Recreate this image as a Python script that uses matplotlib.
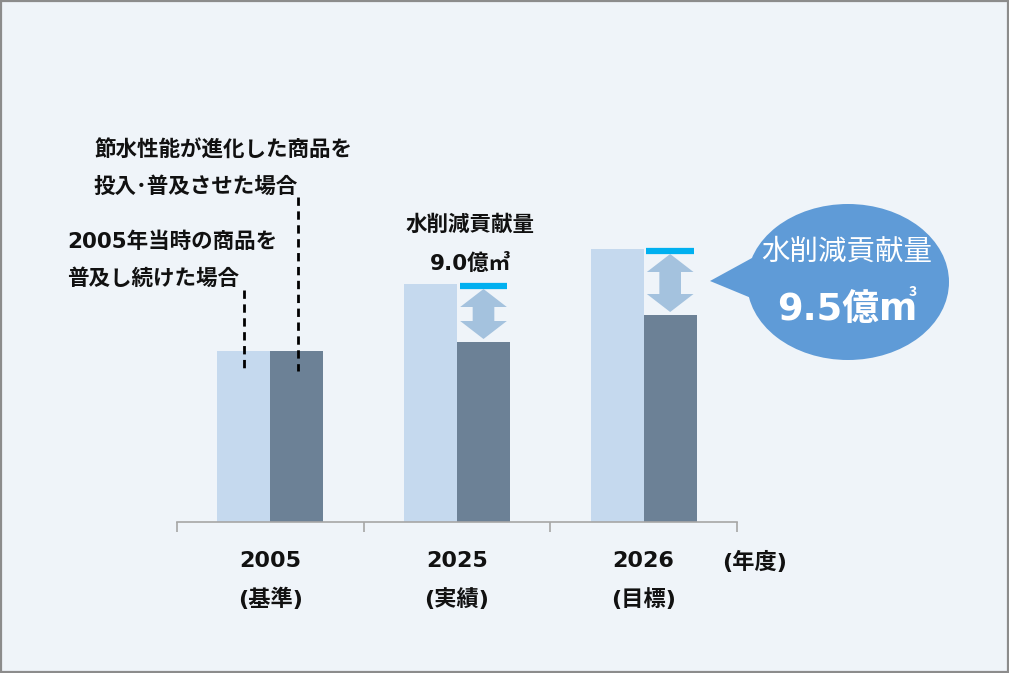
import matplotlib
matplotlib.use("Agg")
import matplotlib.pyplot as plt
from matplotlib.patches import Ellipse, Polygon, Rectangle

FAM = ['DejaVu Sans', 'Noto Sans CJK JP']
plt.rcParams['font.family'] = FAM

# ---- data (relative index values) ----
years = ["2005", "2025", "2026"]
year_notes = ["(基準)", "(実績)", "(目標)"]
baseline_values = [171, 238, 273]   # 2005年当時の商品を普及し続けた場合
saving_values = [171, 180, 207]     # 節水性能が進化した商品を投入・普及させた場合
reduction_labels = ["", "9.0億㎥", "9.5億m"]
unit_label = "(年度)"

W, H = 1009, 673
fig = plt.figure(figsize=(W / 100, H / 100), dpi=100)
fig.patch.set_facecolor("#EFF4F9")

# border
fig.add_artist(Rectangle((0.0008, 0.001), 0.9984, 0.9975, transform=fig.transFigure,
                         fill=False, edgecolor="#8C8C8C", linewidth=1.6))

base_px = 522
ax_left, ax_right = 177, 737
ax = fig.add_axes([ax_left / W, (H - base_px) / H, (ax_right - ax_left) / W, base_px / H])
ax.set_facecolor("none")
ax.set_xlim(-0.5, 2.5)
ax.set_ylim(0, base_px)
for s in ["left", "right", "top"]:
    ax.spines[s].set_visible(False)
ax.spines["bottom"].set_color("#A6A6A6")
ax.spines["bottom"].set_linewidth(1.2)
ax.set_yticks([])
ax.set_xticks([-0.5, 0.5, 1.5, 2.5])
ax.set_xticklabels([])
ax.tick_params(axis="x", direction="out", length=7, color="#A6A6A6", width=1.2)

x = list(range(len(years)))
bw = 0.284
light = "#C5D9EE"
dark = "#6C8196"
ax.bar([i - bw / 2 for i in x], baseline_values, width=bw, color=light, zorder=2)
ax.bar([i + bw / 2 for i in x], saving_values, width=bw, color=dark, zorder=2)

# cyan reference line + double arrow for 2025, 2026
for i in [1, 2]:
    top = baseline_values[i]
    low = saving_values[i]
    cx = i + bw / 2
    ax.plot([cx - bw / 2 + 0.015, cx + bw / 2 - 0.015], [top - 2, top - 2],
            color="#00B0F0", linewidth=4.5, solid_capstyle="butt", zorder=3)
    hw = 0.125   # head half width
    sw = 0.058   # shaft half width
    y1 = top - 5
    y0 = low + 3
    hh = 18
    pts = [(cx, y1), (cx + hw, y1 - hh), (cx + sw, y1 - hh), (cx + sw, y0 + hh),
           (cx + hw, y0 + hh), (cx, y0), (cx - hw, y0 + hh), (cx - sw, y0 + hh),
           (cx - sw, y1 - hh), (cx - hw, y1 - hh)]
    ax.add_patch(Polygon(pts, closed=True, facecolor="#A4C2DE", edgecolor="none", zorder=3))

# ---- text in pixel coordinates (top-left origin) ----
def ftext(px, py, s, **kw):
    fig.text(px / W, 1 - py / H, s, **kw)

bold = dict(fontweight="bold", color="#111111", family=FAM)
for i, (yr, note) in enumerate(zip(years, year_notes)):
    cxp = ax_left + (i + 0.5) * (ax_right - ax_left) / 3
    ftext(cxp, 561, yr, ha="center", va="center", fontsize=16, **bold)
    ftext(cxp, 599, note, ha="center", va="center", fontsize=16, **bold)
ftext(755, 562, unit_label, ha="center", va="center", fontsize=16, **bold)

ftext(94, 150, "節水性能が進化した商品を", ha="left", va="center", fontsize=15.5, **bold)
ftext(94, 187, "投入･普及させた場合", ha="left", va="center", fontsize=15.5, **bold)
ftext(67, 242, "2005年当時の商品を", ha="left", va="center", fontsize=15.5, **bold)
ftext(67, 279, "普及し続けた場合", ha="left", va="center", fontsize=15.5, **bold)

ftext(470, 225, "水削減貢献量", ha="center", va="center", fontsize=15.5, **bold)
ftext(470, 263, reduction_labels[1], ha="center", va="center", fontsize=15.5, **bold)

# dashed leader lines
fig.add_artist(plt.Line2D([244 / W, 244 / W], [1 - 290 / H, 1 - 368 / H], color="black",
                          linewidth=2, linestyle=(0, (3, 2))))
fig.add_artist(plt.Line2D([298 / W, 298 / W], [1 - 197 / H, 1 - 371 / H], color="black",
                          linewidth=2, linestyle=(0, (3, 2))))

# speech bubble
bax = fig.add_axes([0, 0, 1, 1])
bax.set_xlim(0, W)
bax.set_ylim(H, 0)
bax.axis("off")
bcol = "#5F9BD7"
bax.add_patch(Ellipse((848, 282), 202, 156, facecolor=bcol, edgecolor="none"))
bax.add_patch(Polygon([(710, 281), (752, 258), (756, 300)], closed=True,
                      facecolor=bcol, edgecolor="none"))
bax.text(847, 252, "水削減貢献量", ha="center", va="center", fontsize=20.5, color="white",
         family=['Noto Sans CJK JP'])
bax.text(847, 310, reduction_labels[2], ha="center", va="center", fontsize=26.5,
         fontweight="bold", color="white", family=FAM)
bax.text(913, 292, "3", ha="center", va="center", fontsize=10, color="white",
         fontweight="bold", family=['Noto Sans CJK JP'])

fig.savefig("out.png", dpi=100, facecolor=fig.get_facecolor())
